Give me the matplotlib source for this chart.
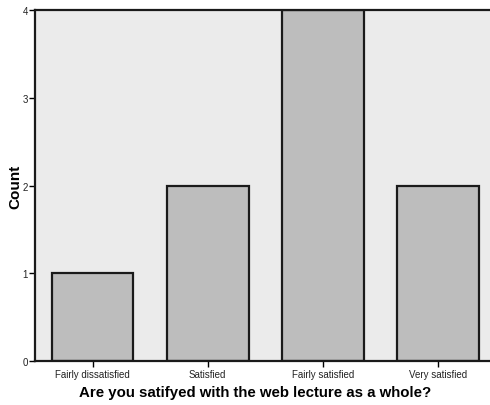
import matplotlib.pyplot as plt

categories = ["Fairly dissatisfied", "Satisfied", "Fairly satisfied", "Very satisfied"]
counts = [1, 2, 4, 2]
y_ticks = [0, 1, 2, 3, 4]

plt.rcParams["font.family"] = ["Liberation Sans", "DejaVu Sans"]

fig = plt.figure(figsize=(4.9, 4.06), dpi=100)
ax = fig.add_axes([0.0714, 0.108, 0.94, 0.865])
ax.set_facecolor("#ebebeb")

x = range(len(categories))
ax.bar(x, counts, width=0.71, color="#bdbdbd", edgecolor="#1a1a1a", linewidth=1.6, zorder=2)

ax.set_xlim(-0.5, 3.5)
ax.set_ylim(0, 4)
ax.set_yticks(y_ticks)
ax.set_yticklabels([str(t) for t in y_ticks], fontsize=7, color="#222222")
ax.set_xticks(list(x))
ax.set_xticklabels(categories, fontsize=7, color="#222222")
ax.tick_params(axis="y", length=4, width=1, pad=1)
ax.tick_params(axis="x", length=4, width=1, pad=2)

for s in ax.spines.values():
    s.set_linewidth(1.6)
    s.set_color("#1a1a1a")

ax.set_xlabel("Are you satifyed with the web lecture as a whole?", fontsize=10.8,
              fontweight="bold", labelpad=4, x=0.478)
ax.set_ylabel("Count", fontsize=11, fontweight="bold", labelpad=0)

fig.savefig("out.png", dpi=100, facecolor="white")
